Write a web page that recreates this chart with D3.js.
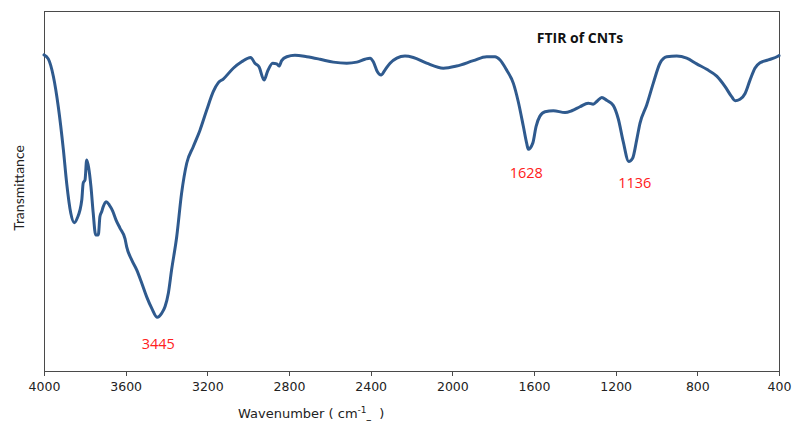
<!DOCTYPE html>
<html><head><meta charset="utf-8">
<script src="https://cdn.jsdelivr.net/npm/d3@7"></script>
<style>body{margin:0;background:#fff}svg{display:block}</style>
</head><body>
<svg id="chart" width="793" height="425"></svg>
<script>
const wavenumber = [4000,3979,3954,3930,3905,3889,3869,3852,3837,3815,3808,3799,3791,3781,3770,3759,3747,3734,3726,3717,3710,3696,3680,3664,3647,3628,3603,3595,3570,3546,3521,3497,3472,3445,3424,3407,3391,3375,3350,3326,3301,3269,3236,3203,3171,3146,3122,3073,3032,2988,2967,2947,2922,2906,2880,2860,2849,2836,2811,2771,2713,2648,2583,2517,2468,2428,2403,2387,2367,2349,2330,2305,2272,2232,2191,2126,2044,1979,1897,1832,1791,1766,1734,1701,1677,1652,1636,1628,1606,1590,1571,1546,1505,1448,1415,1375,1334,1310,1290,1268,1244,1212,1187,1163,1136,1117,1097,1081,1048,1016,983,950,901,852,803,754,705,664,632,615,591,566,542,518,493,452,403,400];
const transmittance = [87.8,86.7,81.8,73.4,61.4,52.2,43.9,41.2,42.5,47.5,52.2,53.1,58.6,56.4,51.2,43.9,37.8,37.8,42.9,44.3,45.6,47.0,46.1,44.5,41.9,39.7,36.7,34.5,30.8,28.1,24.4,20.6,17.4,14.9,16.0,17.9,21.6,28.1,37.3,49.4,57.7,62.3,66.9,72.5,77.6,80.1,81.1,84.1,85.9,87.1,85.5,84.5,80.8,83.1,85.5,85.3,84.7,86.2,87.3,87.7,87.3,86.6,85.8,85.5,85.8,86.6,86.9,85.9,83.1,82.2,83.6,85.5,86.9,87.5,87.1,85.5,84.1,84.7,86.2,87.3,87.3,86.4,83.6,79.9,74.8,67.9,63.3,61.6,63.3,67.9,70.8,72.0,72.3,71.8,72.3,73.4,74.4,74.1,75.0,76.0,75.2,73.8,70.0,63.7,58.2,59.1,64.2,68.8,73.9,79.9,85.5,87.3,87.5,86.9,85.3,83.8,81.9,79.0,76.2,75.1,75.5,77.1,80.8,84.1,85.6,86.4,87.5,87.6];
const xTicks = [4000,3600,3200,2800,2400,2000,1600,1200,800,400];
const peakLabels = ["3445","1628","1136"];
const peakPos = [3445,1628,1136];
const peakT = [6.2,53.6,50.8];

const svg = d3.select("#chart");
const L=44, R=779, T=11, B=371;
const x = d3.scaleLinear().domain([4000,400]).range([L,R]);
const y = d3.scaleLinear().domain([0,100]).range([B,T]);
const axisColor = "#4a4a4a";

svg.append("rect").attr("x",L).attr("y",T).attr("width",R-L).attr("height",B-T)
  .attr("fill","none").attr("stroke",axisColor).attr("stroke-width",1).attr("shape-rendering","crispEdges");

const xAxis = d3.axisBottom(x).tickValues(xTicks).tickSize(5).tickPadding(6).tickFormat(d3.format("d"));
const gx = svg.append("g").attr("transform",`translate(0,${B})`).call(xAxis);
gx.select(".domain").attr("stroke",axisColor);
gx.selectAll(".tick line").attr("stroke",axisColor).attr("shape-rendering","crispEdges");
gx.selectAll(".tick text").attr("font-family","DejaVu Sans, Verdana, sans-serif").attr("font-size","12.5px").attr("fill","#222");

const data = wavenumber.map((w,i)=>({w,t:transmittance[i]}));
svg.append("path").datum(data)
  .attr("fill","none").attr("stroke","#2f5a8e").attr("stroke-width",3).attr("stroke-linejoin","round").attr("stroke-linecap","round")
  .attr("d", d3.line().x(d=>x(d.w)).y(d=>y(d.t)).curve(d3.curveMonotoneX));

const labelShift = [1,-2,6];
svg.selectAll(".peak").data(peakLabels).enter().append("text")
  .attr("x",(d,i)=>x(peakPos[i])+labelShift[i])
  .attr("y",(d,i)=>y(peakT[i]))
  .attr("text-anchor","middle").attr("fill","#ff2020")
  .attr("font-family","Open Sans, sans-serif").attr("font-size","14.5px")
  .text(d=>d);

svg.append("text").attr("x",580).attr("y",43).attr("text-anchor","middle")
  .attr("font-family","Open Sans, sans-serif").attr("font-weight","bold").attr("font-size","14px").attr("fill","#111")
  .text("FTIR of CNTs");

svg.append("text").attr("transform","translate(24,188) rotate(-90)").attr("text-anchor","middle")
  .attr("font-family","Lato, sans-serif").attr("font-size","14px").attr("fill","#222")
  .text("Transmittance");

const xl = svg.append("text").attr("x",238).attr("y",418)
  .attr("font-family","DejaVu Sans, Verdana, sans-serif").attr("font-size","13px").attr("fill","#222");
xl.append("tspan").text("Wavenumber ( cm");
xl.append("tspan").attr("dy",-5).attr("font-size","9px").text("-1");
xl.append("tspan").attr("dy",6).attr("font-size","9px").attr("font-weight","bold").text("_");
xl.append("tspan").attr("dy",-1).text("  ) ").attr("xml:space","preserve");
</script>
</body></html>
